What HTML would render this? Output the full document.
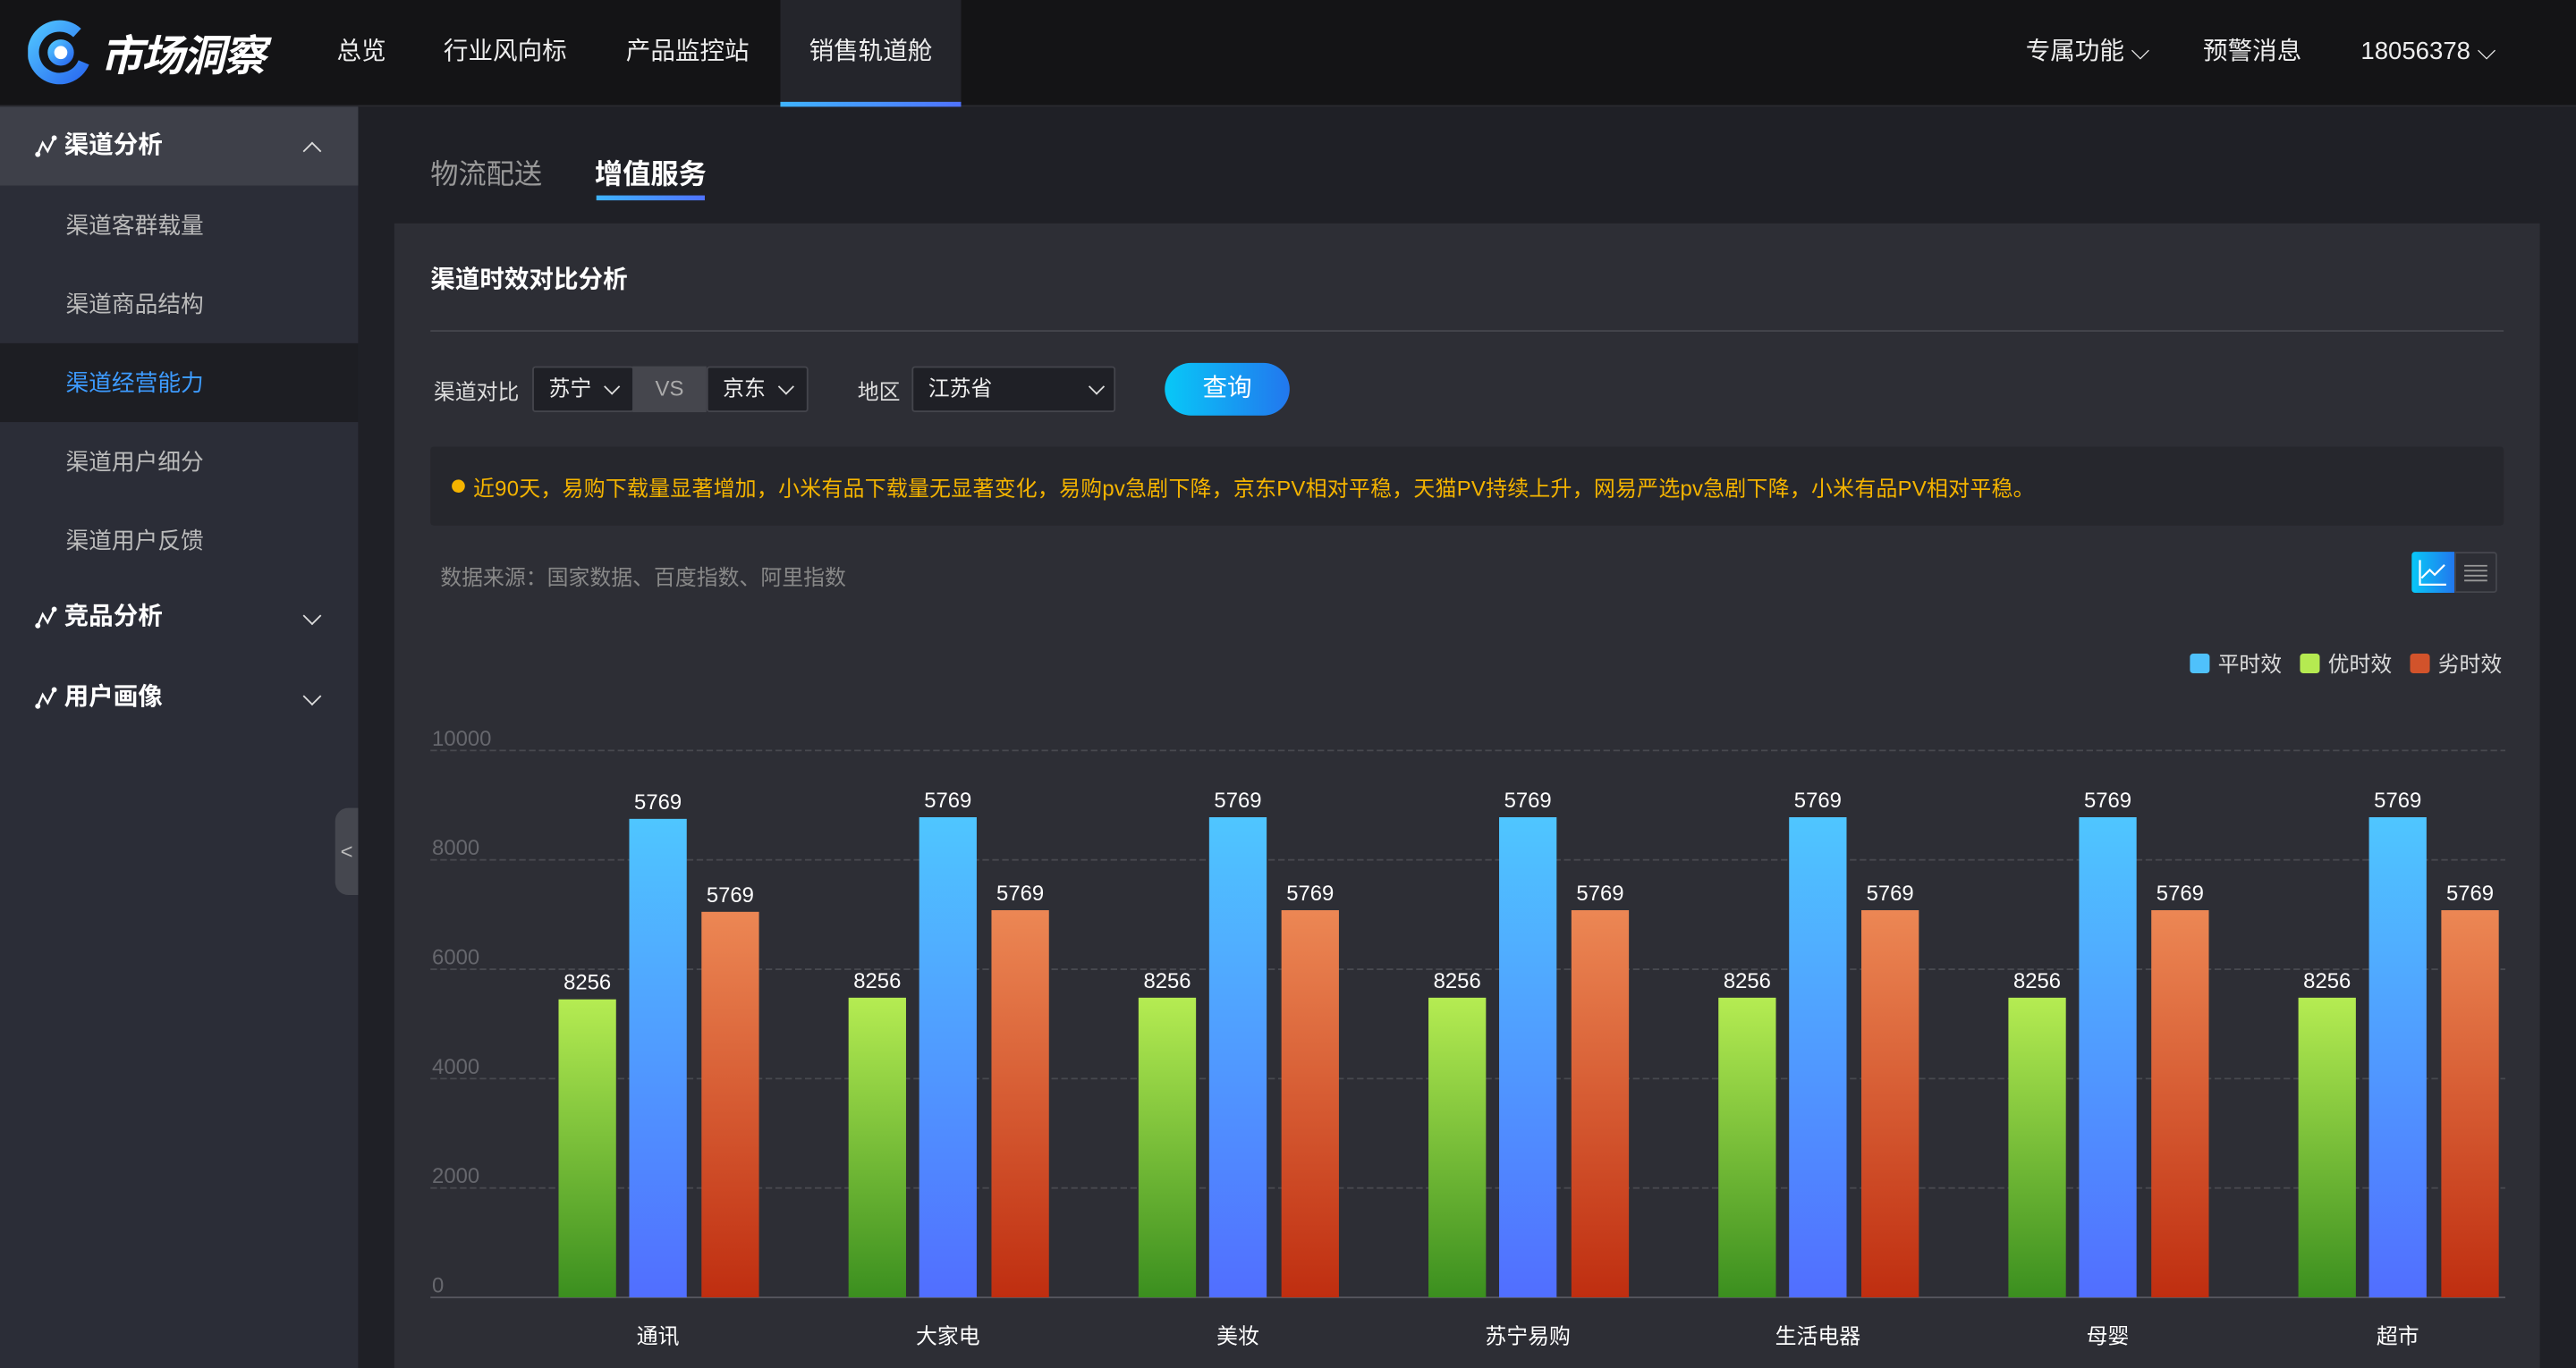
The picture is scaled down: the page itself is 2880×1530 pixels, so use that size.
<!DOCTYPE html>
<html><head><meta charset="utf-8">
<style>
html,body{margin:0;padding:0;width:2880px;height:1530px;overflow:hidden;background:#1f2026;}
#root{position:absolute;left:0;top:0;width:1568px;height:833px;transform:scale(1.836735);transform-origin:0 0;font-family:"Liberation Sans","Noto Sans CJK SC",sans-serif;color:#fff;background:#1f2026;}
.abs{position:absolute;}
.nav{left:0;top:0;width:1568px;height:64px;background:#141416;border-bottom:1px solid #2a2b30;}
.navi{top:0;height:64px;line-height:64px;font-size:15px;color:#eee;}
.side{left:0;top:65px;width:218px;height:768px;background:#2b2d37;}
.si{left:0;width:218px;height:48px;line-height:48px;font-size:14px;color:#bbb;padding-left:40px;box-sizing:border-box;}
.sh{font-size:15px;color:#fff;font-weight:bold;padding-left:39px;}
.chev{position:absolute;right:24px;top:19px;width:7px;height:7px;border-right:1.5px solid #ddd;border-bottom:1.5px solid #ddd;transform:rotate(45deg);}
.chevu{top:23px;transform:rotate(-135deg);}
.card{left:240px;top:136px;width:1306px;height:697px;background:#2d2e35;}
.sel{top:223px;height:28px;background:#1f2026;border:1px solid #44454c;box-sizing:border-box;border-radius:2px;font-size:13px;line-height:26px;padding-left:9px;color:#eee;}
.dn{position:absolute;top:8px;width:6px;height:6px;border-right:1.3px solid #ddd;border-bottom:1.3px solid #ddd;transform:rotate(45deg);}
.ico{position:absolute;left:21px;top:17px;}
</style></head>
<body>
<div id="root">
 <div class="abs nav">
  <svg class="abs" style="left:17px;top:12px" width="40" height="40">
   <defs><linearGradient id="lg" x1="0" y1="0" x2="1" y2="1"><stop offset="0" stop-color="#4fc3ff"/><stop offset="1" stop-color="#2b6cf0"/></linearGradient></defs>
   <path d="M30 8 A16 16 0 1 0 34 26" stroke="url(#lg)" stroke-width="7" fill="none"/>
   <circle cx="20" cy="20" r="6" fill="#fff" stroke="url(#lg)" stroke-width="4"/>
  </svg>
  <div class="abs" style="left:61px;top:14px;font-size:26px;font-weight:bold;font-style:italic;letter-spacing:-1px">市场洞察</div>
  <div class="abs navi" style="left:205px">总览</div>
  <div class="abs navi" style="left:270px">行业风向标</div>
  <div class="abs navi" style="left:381px">产品监控站</div>
  <div class="abs navi" style="left:475px;width:110px;text-align:center;background:#24252b">销售轨道舱</div>
  <div class="abs" style="left:475px;top:62px;width:110px;height:3px;background:linear-gradient(90deg,#3fb4ff,#4f72ff)"></div>
  <div class="abs navi" style="left:1233px">专属功能 ⌵</div>
  <div class="abs navi" style="left:1341px">预警消息</div>
  <div class="abs navi" style="left:1437px">18056378 ⌵</div>
 </div>

 <div class="abs side">
  <div class="abs si sh" style="top:0;background:#3e4049"><svg class="ico" width="14" height="14"><path d="M2 12L5 5L8 10L12 2" stroke="#fff" stroke-width="1.3" fill="none"/><circle cx="2" cy="12" r="1.6" fill="#fff"/><circle cx="12" cy="2" r="1.6" fill="#fff"/></svg>渠道分析<span class="chev chevu"></span></div>
  <div class="abs si" style="top:48px">渠道客群载量</div>
  <div class="abs si" style="top:96px">渠道商品结构</div>
  <div class="abs si" style="top:144px;background:#1d1e23;color:#3d9bff">渠道经营能力</div>
  <div class="abs si" style="top:192px">渠道用户细分</div>
  <div class="abs si" style="top:240px">渠道用户反馈</div>
  <div class="abs si sh" style="top:287px"><svg class="ico" width="14" height="14"><path d="M2 12L5 5L8 10L12 2" stroke="#fff" stroke-width="1.3" fill="none"/><circle cx="2" cy="12" r="1.6" fill="#fff"/><circle cx="12" cy="2" r="1.6" fill="#fff"/></svg>竞品分析<span class="chev"></span></div>
  <div class="abs si sh" style="top:336px"><svg class="ico" width="14" height="14"><path d="M2 12L5 5L8 10L12 2" stroke="#fff" stroke-width="1.3" fill="none"/><circle cx="2" cy="12" r="1.6" fill="#fff"/><circle cx="12" cy="2" r="1.6" fill="#fff"/></svg>用户画像<span class="chev"></span></div>
  <div class="abs" style="left:204px;top:427px;width:14px;height:53px;background:#45474f;border-radius:8px 0 0 8px;color:#bbb;font-size:13px;line-height:53px;text-align:center">&lt;</div>
 </div>

 <div class="abs" style="left:262px;top:92px;font-size:17px;color:#999">物流配送</div>
 <div class="abs" style="left:362px;top:92px;font-size:17px;color:#fff;font-weight:bold">增值服务</div>
 <div class="abs" style="left:363px;top:119px;width:66px;height:3px;background:linear-gradient(90deg,#3fb4ff,#4f72ff)"></div>

 <div class="abs card"></div>
 <div class="abs" style="left:262px;top:159px;font-size:15px;font-weight:bold">渠道时效对比分析</div>
 <div class="abs" style="left:262px;top:201px;width:1262px;height:1px;background:#45464d"></div>

 <div class="abs" style="left:264px;top:228px;font-size:13px;color:#ddd">渠道对比</div>
 <div class="abs sel" style="left:324px;width:62px">苏宁<span class="dn" style="left:44px"></span></div>
 <div class="abs" style="left:385px;top:223px;width:45px;height:28px;background:#45464d;line-height:28px;text-align:center;font-size:13px;color:#aaa">VS</div>
 <div class="abs sel" style="left:430px;width:62px">京东<span class="dn" style="left:44px"></span></div>
 <div class="abs" style="left:522px;top:228px;font-size:13px;color:#ddd">地区</div>
 <div class="abs sel" style="left:555px;width:124px">江苏省<span class="dn" style="left:108px"></span></div>
 <div class="abs" style="left:709px;top:221px;width:76px;height:32px;border-radius:16px;background:linear-gradient(90deg,#08c8f7,#2277ee);text-align:center;line-height:32px;font-size:15px">查询</div>

 <div class="abs" style="left:262px;top:272px;width:1262px;height:48px;background:#26272d;border-radius:2px">
  <div class="abs" style="left:13px;top:20px;width:8px;height:8px;border-radius:50%;background:#f5b400"></div>
  <div class="abs" style="left:26px;top:15px;font-size:13px;letter-spacing:0.15px;color:#f5b400;white-space:nowrap">近90天，易购下载量显著增加，小米有品下载量无显著变化，易购pv急剧下降，京东PV相对平稳，天猫PV持续上升，网易严选pv急剧下降，小米有品PV相对平稳。</div>
 </div>
 <div class="abs" style="left:268px;top:341px;font-size:13px;color:#888">数据来源：国家数据、百度指数、阿里指数</div>
 <div class="abs" style="left:1468px;top:336px;width:26px;height:25px;background:linear-gradient(90deg,#08c8f7,#2277ee);border-radius:2px 0 0 2px">
  <svg width="26" height="25"><path d="M5 5V20H21M6 16L11 11L14 14L20 8" stroke="#fff" stroke-width="1.2" fill="none"/></svg></div>
 <div class="abs" style="left:1494px;top:336px;width:26px;height:25px;border:1px solid #45464d;box-sizing:border-box;border-radius:0 2px 2px 0">
  <svg width="24" height="23"><path d="M5 7.5H19M5 10.5H19M5 13.5H19M5 16.5H19" stroke="#999" stroke-width="1"/></svg></div>

 <svg id="chart" class="abs" style="left:0;top:0" width="1568" height="833">
  <defs>
   <linearGradient id="gG" x1="0" y1="0" x2="0" y2="1"><stop offset="0" stop-color="#b5ec52"/><stop offset="1" stop-color="#3b8f1f"/></linearGradient>
   <linearGradient id="gB" x1="0" y1="0" x2="0" y2="1"><stop offset="0" stop-color="#4fc6ff"/><stop offset="1" stop-color="#516eff"/></linearGradient>
   <linearGradient id="gO" x1="0" y1="0" x2="0" y2="1"><stop offset="0" stop-color="#ec8754"/><stop offset="1" stop-color="#bf2e10"/></linearGradient>
  </defs>
 </svg>
</div>
<script>
const categories=["通讯","大家电","美妆","苏宁易购","生活电器","母婴","超市"];
const greenValues=[5450,5480,5480,5480,5480,5480,5480];
const blueValues=[8750,8780,8780,8780,8780,8780,8780];
const orangeValues=[7050,7080,7080,7080,7080,7080,7080];
const greenLabels=["8256","8256","8256","8256","8256","8256","8256"];
const blueLabels=["5769","5769","5769","5769","5769","5769","5769"];
const orangeLabels=["5769","5769","5769","5769","5769","5769","5769"];
const yTicks=[0,2000,4000,6000,8000,10000];
const legendNames=["平时效","优时效","劣时效"];

const NS="http://www.w3.org/2000/svg";
const svg=document.getElementById('chart');
const yMax=10000,y0=790,y1=457,plotL=262,plotR=1525;
function yScale(v){return y0-(v/yMax)*(y0-y1);}
const step=176.5,firstCenter=400.5;
function xCenter(i){return firstCenter+i*step;}
function mk(tag,attrs){const e=document.createElementNS(NS,tag);for(const k in attrs)e.setAttribute(k,attrs[k]);svg.appendChild(e);return e;}

yTicks.forEach(t=>{
 const y=yScale(t);
 const l=mk('line',{x1:plotL,x2:plotR,y1:y,y2:y,stroke:t===0?'#55565d':'#48494f','stroke-width':1,'stroke-dasharray':t===0?'':'4 2'});
 
 
 const tx=mk('text',{x:263,y:y-3,fill:'#66676d','font-size':13});
 tx.textContent=t;
 
 
});

const series=[
 {vals:greenValues,labs:greenLabels,off:-43,fill:'url(#gG)',name:'green'},
 {vals:blueValues,labs:blueLabels,off:0,fill:'url(#gB)',name:'blue'},
 {vals:orangeValues,labs:orangeLabels,off:44,fill:'url(#gO)',name:'orange'}];
const bw=35;
categories.forEach((c,i)=>{
 series.forEach(s=>{
  const cx=xCenter(i)+s.off, top=yScale(s.vals[i]);
  const r=mk('rect',{x:cx-bw/2,y:top,width:bw,height:y0-top,fill:s.fill});
  
  
  const t=mk('text',{x:cx,y:top-6,fill:'#fff','font-size':13,'text-anchor':'middle'});
  t.textContent=s.labs[i];
  
  
 });
 const xl=mk('text',{x:xCenter(i),y:818,fill:'#fff','font-size':13,'text-anchor':'middle'});
 xl.textContent=c;
 
 
});

const legendColors=['#4fc1fb','#b5ea51','#d2532b'];
const legendX=[1333,1400,1467];
legendNames.forEach((n,i)=>{
 const r=mk('rect',{x:legendX[i],y:398,width:12,height:12,rx:2,fill:legendColors[i]});
 
 
 const t=mk('text',{x:legendX[i]+17,y:409,fill:'#ddd','font-size':13});
 t.textContent=n;
 
 
});
</script>
</body></html>
